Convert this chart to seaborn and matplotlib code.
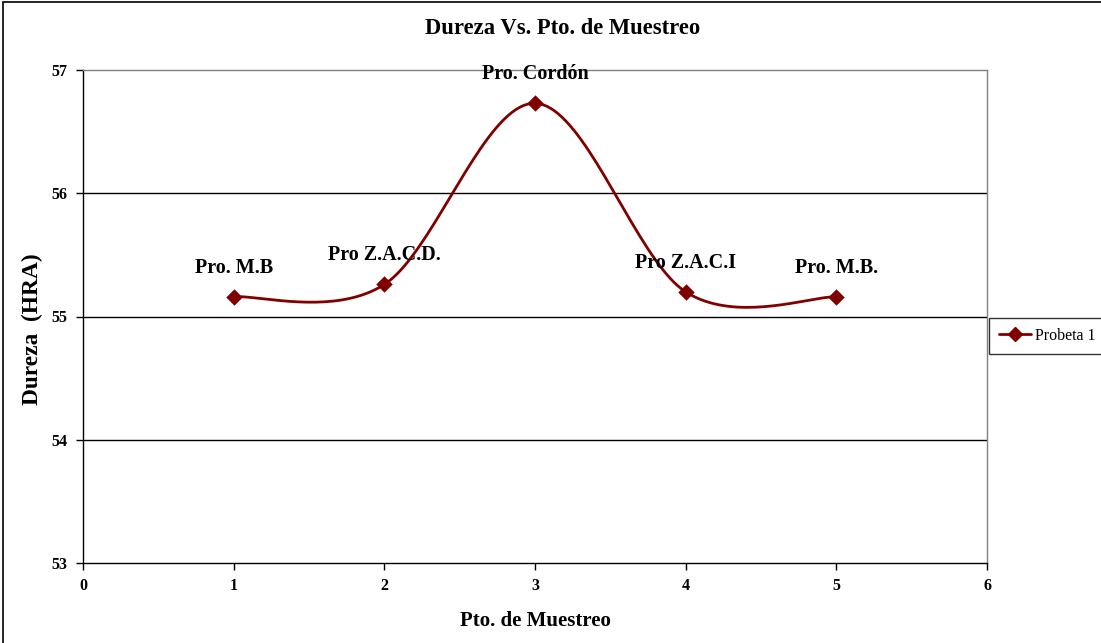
import numpy as np
import pandas as pd
import matplotlib
matplotlib.use("Agg")
import matplotlib.pyplot as plt
from matplotlib.patches import Rectangle
from matplotlib.lines import Line2D
import seaborn as sns

# Hardness readings along the weld sample
puntos = [1, 2, 3, 4, 5]
dureza = [55.16, 55.26, 56.73, 55.20, 55.16]
etiquetas = ["Pro. M.B", "Pro Z.A.C.D.", "Pro. Cordón", "Pro Z.A.C.I", "Pro. M.B."]
serie = "Probeta 1"

y_ticks = [53, 54, 55, 56, 57]
x_ticks = [0, 1, 2, 3, 4, 5, 6]

COLOR = "#800000"


def smooth_curve(x, y, n=40):
    """Piecewise cubic Bezier through the points (Catmull-Rom style)."""
    x = np.asarray(x, float)
    y = np.asarray(y, float)
    px = np.concatenate([[x[0]], x, [x[-1]]])
    py = np.concatenate([[y[0]], y, [y[-1]]])
    xs, ys = [], []
    t = np.linspace(0, 1, n)
    for i in range(1, len(px) - 2):
        p0 = np.array([px[i], py[i]])
        p3 = np.array([px[i + 1], py[i + 1]])
        p1 = p0 + (np.array([px[i + 1], py[i + 1]]) - np.array([px[i - 1], py[i - 1]])) / 6
        p2 = p3 - (np.array([px[i + 2], py[i + 2]]) - np.array([px[i], py[i]])) / 6
        b = ((1 - t) ** 3)[:, None] * p0 + (3 * (1 - t) ** 2 * t)[:, None] * p1 \
            + (3 * (1 - t) * t ** 2)[:, None] * p2 + (t ** 3)[:, None] * p3
        xs.extend(b[:, 0])
        ys.extend(b[:, 1])
    return np.array(xs), np.array(ys)


sns.set_theme(style="white")
plt.rcParams["font.family"] = ["Liberation Serif", "DejaVu Serif"]
plt.rcParams["text.color"] = "black"
plt.rcParams["axes.labelcolor"] = "black"
plt.rcParams["xtick.color"] = "black"
plt.rcParams["ytick.color"] = "black"

fig = plt.figure(figsize=(11.01, 6.43), dpi=100)
ax = fig.add_axes([83 / 1101, 1 - 563 / 643, (987 - 83) / 1101, (563 - 70) / 643])

sx, sy = smooth_curve(puntos, dureza)
curve = pd.DataFrame({"x": sx, "y": sy})
pts = pd.DataFrame({"x": puntos, "y": dureza})

sns.lineplot(data=curve, x="x", y="y", ax=ax, color=COLOR, linewidth=2.0,
             sort=False, estimator=None, zorder=4)
sns.scatterplot(data=pts, x="x", y="y", ax=ax, color=COLOR, marker="D",
                s=70, edgecolor=COLOR, linewidth=0, zorder=5)

for xv, yv, lab in zip(puntos, dureza, etiquetas):
    ax.annotate(lab, (xv, yv), xytext=(0, 21), textcoords="offset points",
                ha="center", va="center", fontsize=14.5, fontweight="bold",
                color="black", zorder=6)

ax.set_xlim(0, 6)
ax.set_ylim(53, 57)
ax.set_xticks(x_ticks)
ax.set_yticks(y_ticks)
ax.set_xticklabels([str(v) for v in x_ticks], fontsize=11.5, fontweight="bold")
ax.set_yticklabels([str(v) for v in y_ticks], fontsize=11.5, fontweight="bold")
ax.tick_params(axis="both", direction="out", length=5, width=1, color="black",
               bottom=True, left=True, pad=6)

for yv in y_ticks[1:-1]:
    ax.axhline(yv, color="black", linewidth=1, zorder=1)

ax.spines["left"].set_color("black")
ax.spines["bottom"].set_color("black")
ax.spines["top"].set_color("#808080")
ax.spines["right"].set_color("#808080")
for s in ax.spines.values():
    s.set_linewidth(1)

ax.set_xlabel("Pto. de Muestreo", fontsize=15, fontweight="bold", labelpad=12)
ax.set_ylabel("Dureza  (HRA)", fontsize=16.8, fontweight="bold", labelpad=12)
ax.yaxis.set_label_coords(-40 / 904, 0.5 - 13 / 493)

fig.text(563 / 1101, 1 - 29 / 643, "Dureza Vs. Pto. de Muestreo", ha="center",
         va="center", fontsize=16.3, fontweight="bold")

handle = Line2D([], [], color=COLOR, marker="D", markersize=7, linewidth=2)
leg = fig.legend([handle], [serie], loc="center left",
                 bbox_to_anchor=(989 / 1101, 1 - 336 / 643), frameon=True,
                 fancybox=False, edgecolor="black", fontsize=11.5,
                 handlelength=2.0, borderpad=0.6, handletextpad=0.3,
                 borderaxespad=0)
leg.get_frame().set_linewidth(1)

# Outer chart frame
fig.patches.append(Rectangle((3 / 1101, -0.01), 1.2, 1 - 2 / 643 + 0.01,
                             transform=fig.transFigure, fill=False,
                             edgecolor="black", linewidth=1.2, zorder=0))

fig.savefig("out.png", dpi=100)
